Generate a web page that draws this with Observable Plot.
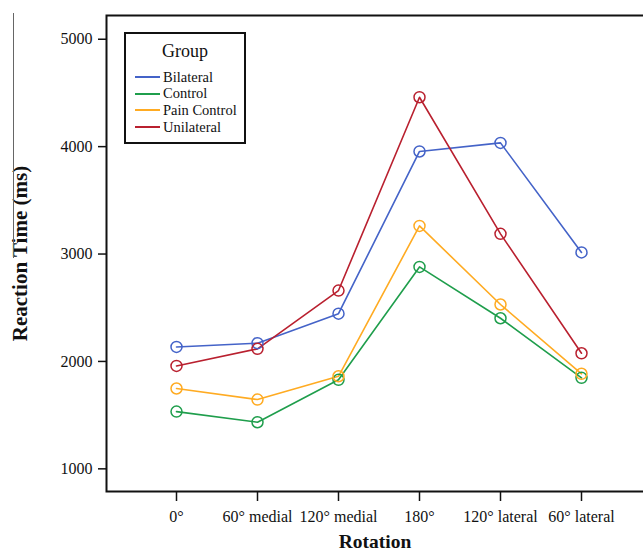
<!DOCTYPE html>
<html>
<head>
<meta charset="utf-8">
<script src="https://cdn.jsdelivr.net/npm/d3@7"></script>
<script src="https://cdn.jsdelivr.net/npm/@observablehq/plot@0.6"></script>
<style>
  html, body { margin: 0; padding: 0; background: #fff; }
  #wrap { position: relative; width: 643px; height: 557px; overflow: hidden; font-family: "Liberation Serif", "Times New Roman", serif; color: #111; }
  #artifact { position: absolute; left: 13px; top: 13px; width: 1px; height: 245px; background: #666; }
  #legend { position: absolute; left: 124px; top: 32px; width: 118px; height: 108px; border: 2px solid #111; background: #fff; }
  #legend .title { text-align: center; font-size: 18px; margin-top: 7px; line-height: 20px; }
  #legend .row { display: flex; align-items: center; height: 16.6px; font-size: 14.5px; margin-left: 9px; }
  #legend .sw { width: 25px; height: 2px; margin-right: 3px; }
  #legend .items { margin-top: 8px; }
</style>
</head>
<body>
<div id="wrap">
  <div id="chart"></div>
  <div id="artifact"></div>
  <div id="legend"><div class="title">Group</div><div class="items" id="items"></div></div>
</div>
<script>
const rotations = ["0°", "60° medial", "120° medial", "180°", "120° lateral", "60° lateral"];
const groups = ["Bilateral", "Control", "Pain Control", "Unilateral"];
const colors = ["#4463c8", "#1f9e4c", "#ffab22", "#b9202f"];
const bilateral   = [2135, 2170, 2445, 3955, 4035, 3015];
const control     = [1533, 1434, 1829, 2880, 2402, 1847];
const painControl = [1748, 1645, 1862, 3262, 2530, 1885];
const unilateral  = [1958, 2117, 2660, 4460, 3188, 2076];
const yTicks = [1000, 2000, 3000, 4000, 5000];
const yDomain = [789, 5221];
const xTitle = "Rotation";
const yTitle = "Reaction Time (ms)";

const series = [bilateral, control, painControl, unilateral];
const data = [];
groups.forEach((g, gi) => rotations.forEach((r, i) => data.push({group: g, rotation: r, rt: series[gi][i]})));

const chart = Plot.plot({
  width: 643,
  height: 557,
  marginLeft: 106,
  marginRight: 0,
  marginTop: 15,
  marginBottom: 66,
  style: {fontFamily: "Liberation Serif, Times New Roman, serif", fontSize: "16px", color: "#111", background: "#fff"},
  x: {type: "point", domain: rotations, padding: 0, insetLeft: 69, insetRight: 62},
  y: {domain: yDomain},
  color: {domain: groups, range: colors},
  marks: [
    Plot.frame({stroke: "#111", strokeWidth: 2, insetRight: -6}),
    Plot.axisY({ticks: yTicks, tickFormat: d => String(d), tickSize: 8, tickPadding: 6, fontSize: 16, label: null, stroke: "#111", strokeWidth: 1.5}),
    Plot.axisX({tickSize: 10, tickPadding: 9, fontSize: 16, label: null, stroke: "#111", strokeWidth: 1.5}),
    Plot.line(data, {x: "rotation", y: "rt", z: "group", stroke: "group", strokeWidth: 1.6}),
    Plot.dot(data, {x: "rotation", y: "rt", stroke: "group", r: 5.5, strokeWidth: 1.5}),
    Plot.text([xTitle], {frameAnchor: "bottom", text: d => d, dy: 56, fontWeight: "bold", fontSize: 19.5}),
    Plot.text([yTitle], {frameAnchor: "left", textAnchor: "middle", text: d => d, rotate: -90, dx: -86, fontWeight: "bold", fontSize: 21})
  ]
});
document.getElementById("chart").appendChild(chart);

const items = document.getElementById("items");
groups.forEach((g, i) => {
  const row = document.createElement("div");
  row.className = "row";
  const sw = document.createElement("span");
  sw.className = "sw";
  sw.style.background = colors[i];
  const t = document.createElement("span");
  t.textContent = g;
  row.appendChild(sw);
  row.appendChild(t);
  items.appendChild(row);
});
</script>
</body>
</html>
